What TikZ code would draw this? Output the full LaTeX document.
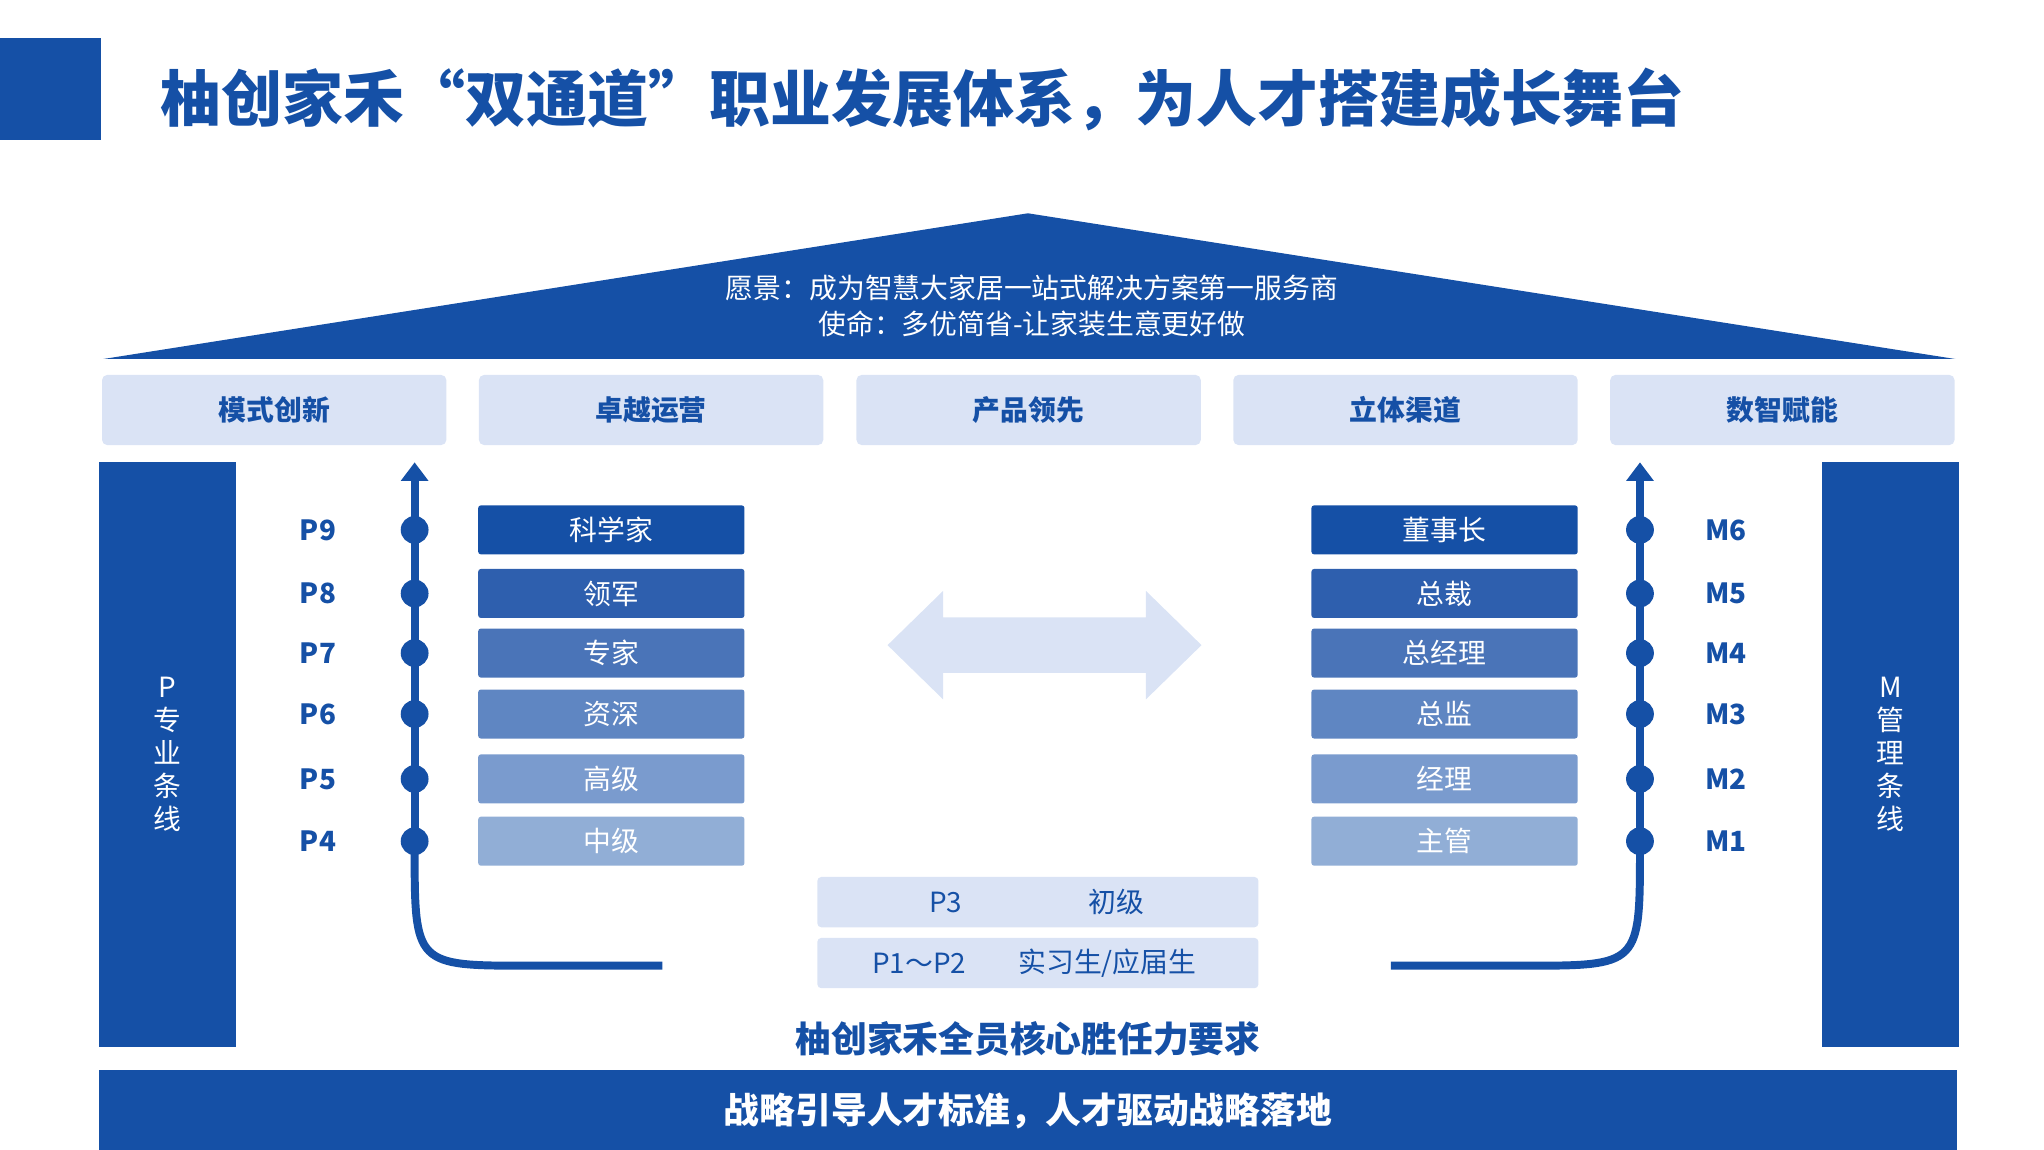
\documentclass[tikz,border=0pt]{standalone}
\usepackage{fontspec}
\setmainfont{Noto Sans CJK SC}
\usetikzlibrary{arrows.meta}
\definecolor{db}{HTML}{1550A6}
\definecolor{lb}{HTML}{DAE3F5}
\definecolor{c1}{HTML}{1550A6}
\definecolor{c2}{HTML}{2E5FAE}
\definecolor{c3}{HTML}{4A74B8}
\definecolor{c4}{HTML}{5F86C2}
\definecolor{c5}{HTML}{7A9BCE}
\definecolor{c6}{HTML}{91AED6}
\begin{document}
\begin{tikzpicture}[x=1pt,y=-1pt,
 top/.style={fill=lb,rounded corners=4pt,minimum width=260pt,minimum height=53pt,text=db,font=\fontsize{21}{21}\selectfont\bfseries},
 bar/.style={rounded corners=2pt,minimum width=201pt,minimum height=37pt,text=white,font=\fontsize{21}{21}\selectfont},
 lvl/.style={text=db,font=\fontsize{21}{21}\selectfont},
 lvlb/.style={text=db,font=\fontsize{21}{21}\selectfont\bfseries},
 dot/.style={circle,fill=db,inner sep=0pt,minimum size=21pt},
 pillar/.style={fill=db,minimum width=103pt,minimum height=441pt,text=white,align=center,font=\fontsize{21}{25}\selectfont},
 lowbox/.style={fill=lb,rounded corners=3pt,minimum width=333pt,minimum height=38pt},
 line/.style={db,line width=6pt}]
\useasboundingbox (0,0) rectangle (1543,868);
\fill[db] (0,29) rectangle (76,106);
\node[anchor=west,text=db,font=\fontsize{46}{46}\selectfont\bfseries] (title) at (118,75) {柚创家禾“双通道”职业发展体系，为人才搭建成长舞台};
\fill[db] (78,271) -- (776,161) -- (1476,271) -- cycle;
\node[text=white,align=center,font=\fontsize{21}{27}\selectfont] (vision) at (779,231) {愿景：成为智慧大家居一站式解决方案第一服务商\\使命：多优简省-让家装生意更好做};
\node[top] (t1) at (207,309.5) {模式创新};
\node[top] (t2) at (491.5,309.5) {卓越运营};
\node[top] (t3) at (776.5,309.5) {产品领先};
\node[top] (t4) at (1061,309.5) {立体渠道};
\node[top] (t5) at (1345.5,309.5) {数智赋能};
\node[pillar] (lp) at (126.5,569.5) {P\\专\\业\\条\\线};
\node[pillar] (rp) at (1427,569.5) {M\\管\\理\\条\\线};
\coordinate (la) at (313,349);
\coordinate (le) at (500,729);
\coordinate (ra) at (1238,349);
\coordinate (re) at (1050,729);
\draw[line,-{Triangle[length=14pt,width=20pt]}] (313,640) -- (la);
\draw[line] (313,640) .. controls (313,729) .. (400,729) -- (le);
\draw[line,-{Triangle[length=14pt,width=20pt]}] (1238,640) -- (ra);
\draw[line] (1238,640) .. controls (1238,729) .. (1150,729) -- (re);
\foreach \n/\y/\c/\pt/\mt/\pl/\ml in {9/400/c1/科学家/董事长/P9/M6,8/448/c2/领军/总裁/P8/M5,7/493/c3/专家/总经理/P7/M4,6/539/c4/资深/总监/P6/M3,5/588/c5/高级/经理/P5/M2,4/635/c6/中级/主管/P4/M1}{
 \node[lvlb] (pl\n) at (240,\y) {\pl};
 \node[dot] (pd\n) at (313,\y) {};
 \node[bar,fill=\c] (pb\n) at (461.5,\y) {\pt};
 \node[bar,fill=\c] (mb\n) at (1090.5,\y) {\mt};
 \node[dot] (md\n) at (1238,\y) {};
 \node[lvlb] (ml\n) at (1303,\y) {\ml};
}
\fill[lb] (670,487) -- (712,446) -- (712,466) -- (865,466) -- (865,446) -- (907,487) -- (865,528) -- (865,508) -- (712,508) -- (712,528) -- cycle;
\node[lowbox] (b3) at (783.5,681) {};
\node[lowbox] (b12) at (783.5,727) {};
\node[lvl] (p3) at (714,681) {P3};
\node[lvl] (p3t) at (843,681) {初级};
\node[lvl] (p12) at (694,727) {P1～P2};
\node[lvl] (p12t) at (836,727) {实习生/应届生};
\node[text=db,font=\fontsize{27}{27}\selectfont\bfseries] (core) at (776,784) {柚创家禾全员核心胜任力要求};
\node[fill=db,minimum width=1402pt,minimum height=62pt,text=white,font=\fontsize{27}{27}\selectfont\bfseries] (bottom) at (776,839) {战略引导人才标准，人才驱动战略落地};
\end{tikzpicture}
\end{document}
